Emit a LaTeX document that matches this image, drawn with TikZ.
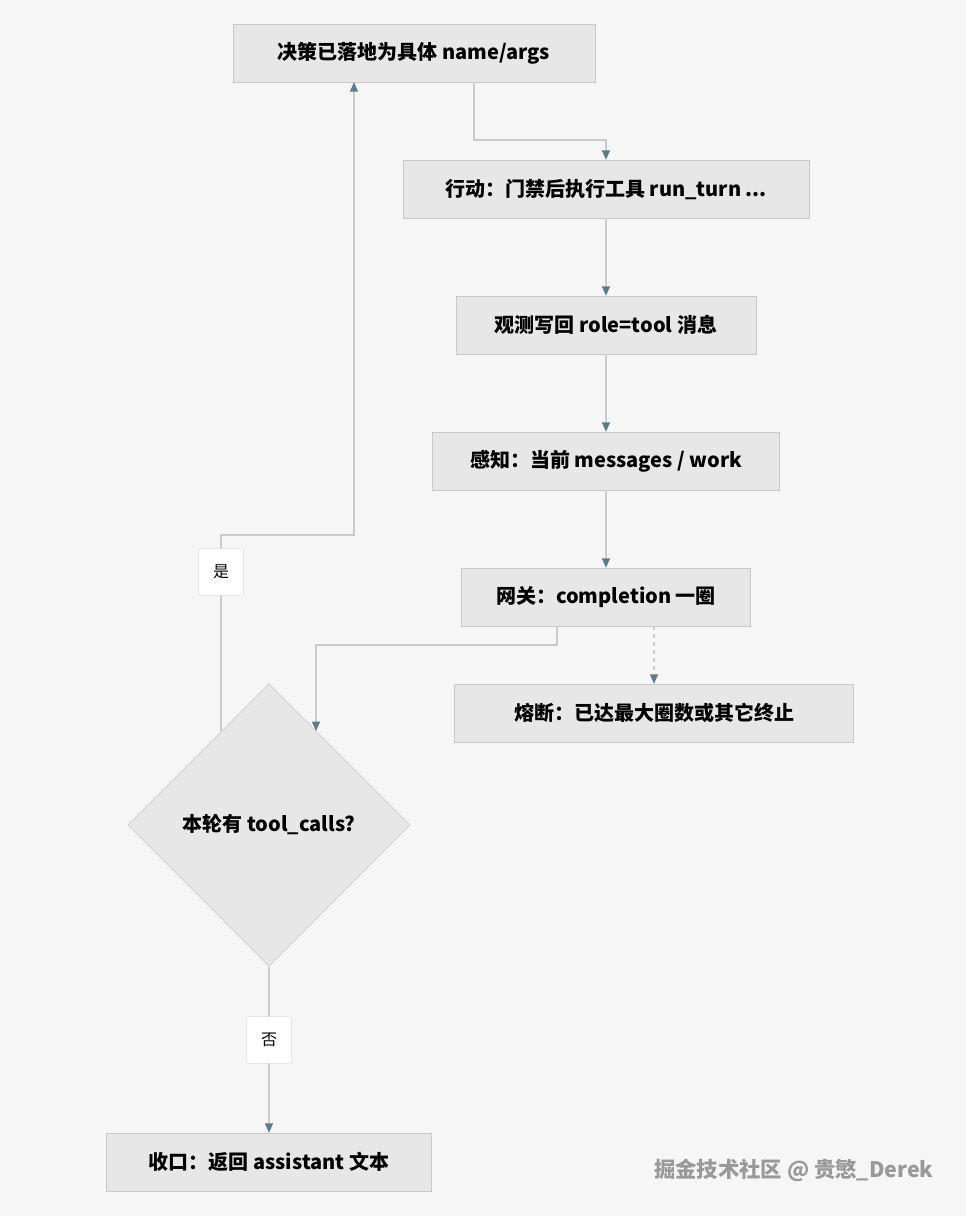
\documentclass[tikz,border=0pt]{standalone}
\usepackage{fontspec}
\setmainfont{Noto Sans CJK SC}
\usetikzlibrary{arrows.meta,shapes.geometric}
\definecolor{bg}{HTML}{F6F6F6}
\definecolor{boxfill}{HTML}{E8E7E7}
\definecolor{boxline}{HTML}{C9C9C9}
\definecolor{edge}{HTML}{CBCBCB}
\definecolor{tip}{HTML}{5E7D8C}
\tikzset{
  x=0.75pt,y=-0.75pt,
  proc/.style={draw=boxline,fill=boxfill,minimum height=43.5pt,font=\fontsize{15}{17}\selectfont\bfseries,inner sep=0pt},
  dec/.style={diamond,draw=boxline,fill=boxfill,minimum width=211.5pt,minimum height=212pt,inner sep=0pt,font=\fontsize{15}{17}\selectfont\bfseries},
  flow/.style={draw=edge,line width=0.9pt,-{Triangle[length=7pt,width=6pt,color=tip]}},
  lab/.style={draw=boxline!60,fill=white,rounded corners=2pt,minimum width=34pt,minimum height=35pt,font=\fontsize{12}{14}\selectfont}
}
\begin{document}
\begin{tikzpicture}
\fill[bg] (0,0) rectangle (966,1216);
\useasboundingbox (0,0) rectangle (966,1216);
\node[proc,minimum width=271.5pt] (n1) at (414,53) {决策已落地为具体 name/args};
\node[proc,minimum width=304.5pt] (n2) at (606,189) {行动：门禁后执行工具 run\_turn ...};
\node[proc,minimum width=225pt] (n3) at (606,325) {观测写回 role=tool 消息};
\node[proc,minimum width=260pt] (n4) at (606,461) {感知：当前 messages / work};
\node[proc,minimum width=217pt] (n5) at (606,597) {网关：completion 一圈};
\node[proc,minimum width=299pt] (n6) at (654,713) {熔断：已达最大圈数或其它终止};
\node[dec] (d) at (269,825) {本轮有 tool\_calls?};
\node[proc,minimum width=244pt] (n7) at (269,1162) {收口：返回 assistant 文本};
\coordinate (a1) at (474,140);
\coordinate (a2) at (606,140);
\draw[flow] (n1.south -| a1) -- (a1) -- (a2) -- (n2.north);
\draw[flow] (n2) -- (n3);
\draw[flow] (n3) -- (n4);
\draw[flow] (n4) -- (n5);
\coordinate (b1) at (557,645);
\coordinate (b2) at (316,645);
\coordinate (b3) at (316,731);
\draw[flow] (n5.south -| b1) -- (b1) -- (b2) -- (b3);
\draw[flow,dashed] (n5.south -| n6.north) -- (n6.north);
\coordinate (c0) at (221,731);
\coordinate (c1) at (221,535);
\coordinate (c2) at (354,535);
\draw[flow] (c0) -- (c1) -- (c2) -- (n1.south -| c2);
\node[lab] (ly) at (221,572) {是};
\draw[flow] (d.south) -- (n7.north);
\node[lab] (ln) at (269,1040) {否};
\node[text=gray!80,font=\fontsize{16}{18}\selectfont\bfseries,anchor=east] (wm) at (938,1170) {掘金技术社区 @ 贵慜\_Derek};
\end{tikzpicture}
\end{document}
